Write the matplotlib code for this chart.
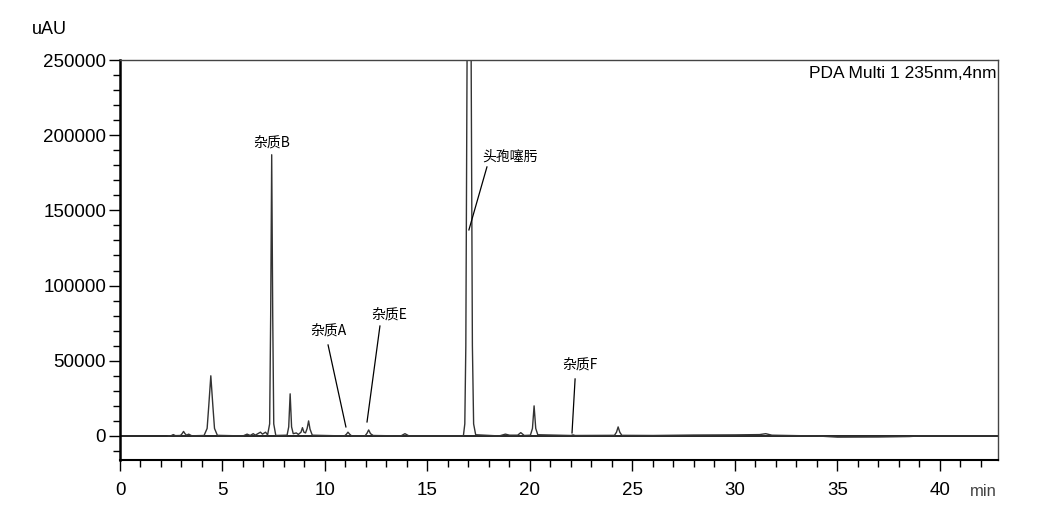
import matplotlib
matplotlib.use("Agg")
import matplotlib.pyplot as plt
from matplotlib.ticker import MultipleLocator

# chromatogram trace: retention time (min) and signal (uAU)
rt = [2.35, 2.5, 2.6, 2.7, 2.95, 3.03, 3.1, 3.17, 3.25, 3.35, 3.5,
      4.1, 4.25, 4.33, 4.43, 4.53, 4.61, 4.75,
      6.0, 6.2, 6.35, 6.5, 6.6, 6.85, 6.95, 7.1, 7.2, 7.3, 7.35, 7.4, 7.45, 7.5, 7.6,
      8.15, 8.23, 8.3, 8.37, 8.45, 8.6, 8.7, 8.83, 8.9, 8.97, 9.05, 9.13, 9.2, 9.27, 9.38,
      10.95, 11.05, 11.12, 11.2, 11.3,
      11.95, 12.05, 12.13, 12.22, 12.35, 13.7, 13.9, 14.1,
      16.75, 16.82, 16.87, 16.93, 17.03, 17.13, 17.19, 17.25, 17.35,
      18.5, 18.8, 19.0, 19.4, 19.55, 19.72,
      20.02, 20.12, 20.2, 20.28, 20.38,
      22.0, 22.1, 22.2, 24.12, 24.22, 24.3, 24.38, 24.48,
      26.0, 28.0, 30.0, 31.2, 31.5, 31.8,
      33.0, 34.0, 35.0, 37.0, 38.5, 39.0, 42.8]
signal = [0, 200, 900, 200, 300, 1500, 3000, 1500, 500, 1200, 100,
          300, 5000, 20000, 40000, 20000, 5000, 400,
          0, 1200, 300, 1500, 500, 2500, 1200, 2500, 700, 8000, 80000, 187000, 80000, 8000, 300,
          500, 6000, 28000, 6000, 1500, 2000, 1000, 2500, 5500, 2500, 2000, 5000, 10000, 4500, 500,
          0, 1200, 2500, 1200, 0,
          0, 1800, 4000, 1500, 300, 0, 1500, 0,
          0, 8000, 60000, 250000, 420000, 250000, 60000, 8000, 800,
          0, 1200, 500, 500, 2200, 300,
          500, 5000, 20000, 5000, 800,
          300, 700, 300, 400, 2500, 6000, 2500, 400,
          300, 600, 700, 900, 1500, 500,
          200, 0, -800, -700, -400, 0, 0]

# peak labels: text, text position, line end (None for no line)
labels = ["杂质B", "头孢噻肟", "杂质A", "杂质E", "杂质F"]
label_xy = [(7.41, 194800), (19.0, 185500), (10.15, 69800), (13.12, 80500), (22.44, 47200)]
line_from = [None, (17.9, 178900), (10.15, 60500), (12.68, 73100), (22.2, 37900)]
line_to = [None, (17.02, 137000), (11.02, 6000), (12.05, 9300), (22.05, 2000)]

fig = plt.figure(figsize=(10.45, 5.05), dpi=100)
ax = fig.add_axes([120 / 1045, 1 - 460 / 505, 878 / 1045, 400 / 505])

ax.axhline(0, color="black", linewidth=1.2, zorder=1)
ax.plot(rt, signal, color="#333333", linewidth=1.0, zorder=2)

ax.set_xlim(0, 42.83)
ax.set_ylim(-16000, 250000)

ax.xaxis.set_major_locator(MultipleLocator(5))
ax.xaxis.set_minor_locator(MultipleLocator(1))
ax.yaxis.set_major_locator(MultipleLocator(50000))
ax.yaxis.set_minor_locator(MultipleLocator(10000))
ax.tick_params(which="major", direction="out", length=8, width=1, labelsize=13.5, pad=2)
ax.tick_params(which="minor", direction="out", length=5, width=1)
ax.tick_params(axis="x", pad=8)
for lab in ax.get_xticklabels() + ax.get_yticklabels():
    lab.set_family("Liberation Sans")

ax.spines["left"].set_linewidth(1.8)
ax.spines["bottom"].set_linewidth(1.5)
ax.spines["top"].set_linewidth(1.0)
ax.spines["right"].set_linewidth(1.0)
ax.spines["top"].set_color("#444444")
ax.spines["right"].set_color("#444444")

cjk = ["Noto Sans CJK SC", "DejaVu Sans"]
for name, xy, p0, p1 in zip(labels, label_xy, line_from, line_to):
    ax.text(xy[0], xy[1], name, ha="center", va="center", fontsize=10, family=cjk)
    if p0 is not None:
        ax.plot([p0[0], p1[0]], [p0[1], p1[1]], color="black", linewidth=0.9)

ax.text(0.998, 0.985, "PDA Multi 1 235nm,4nm", transform=ax.transAxes,
        ha="right", va="top", fontsize=12.5, family="Liberation Sans")
fig.text(32 / 1045, 1 - 30 / 505, "uAU", ha="left", va="center",
         fontsize=13, family="Liberation Sans")
fig.text(997 / 1045, 1 - 492 / 505, "min", ha="right", va="center",
         fontsize=12, family="Liberation Sans", color="#444444")

fig.savefig("out.png", dpi=100)
